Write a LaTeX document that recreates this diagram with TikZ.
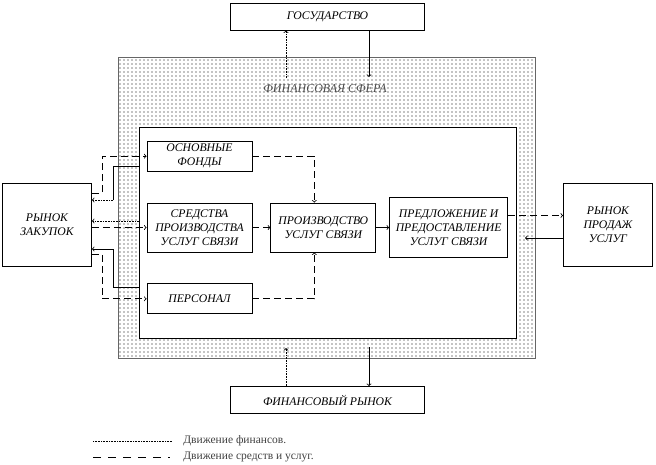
\documentclass[tikz,border=0pt]{standalone}
\usepackage{fontspec}
\setmainfont{Liberation Serif}
\usetikzlibrary{arrows,positioning,patterns}
\pgfdeclarepatternformonly{sferadots}{\pgfqpoint{-1pt}{-1pt}}{\pgfqpoint{1pt}{1pt}}{\pgfqpoint{4pt}{4pt}}{\pgfpathcircle{\pgfqpoint{0pt}{0pt}}{.6pt}\pgfusepath{fill}}
\tikzset{
    %Define standard arrow tip
    >=to,
    %Define style for boxes
    block/.style={
           rectangle,
           draw=black, line width=.8pt,
           fill=white,
           inner sep=1pt,
           font=\itshape\fontsize{11.7}{14}\selectfont,
           align=center,
           },
    smallblock/.style={
           block,
           minimum width=105pt,
           minimum height=30pt,
           },
    market/.style={
           block,
           minimum width=89pt,
           minimum height=83pt,
           },
    wideblock/.style={
           block,
           minimum width=194pt,
           minimum height=27pt,
           },
    legend/.style={
           font=\fontsize{11.5}{13}\selectfont,
           text=black!75,
           inner sep=0pt,
           },
    % Define connector styles
    fin/.style={
           dash pattern=on .8pt off .8pt,
           },
    res/.style={
           dash pattern=on 7pt off 4pt,
           },
    sphere/.style={
           pattern=sferadots,
           draw=black!60,
           line width=.6pt,
           }
}
\begin{document}
\begin{tikzpicture}[x=1pt,y=-1pt,line width=.8pt,node distance=18pt]
\useasboundingbox (0,0) rectangle (656,464);

 %financial sphere
\path[sphere] (118,57) rectangle (535,358);
\draw[fill=white] (139,127) rectangle (516,338);
\node[font=\itshape\fontsize{12}{14}\selectfont, text=black!70] (sfera) at (325,89) {ФИНАНСОВАЯ СФЕРА};

 %nodes
\node[block, minimum width=105pt, minimum height=49pt] (sredstva) at (199.5,227.5) {СРЕДСТВА\\ПРОИЗВОДСТВА\\УСЛУГ СВЯЗИ};
\node[smallblock, above=31pt of sredstva] (fondy) {ОСНОВНЫЕ\\ФОНДЫ};
\node[smallblock, below=31pt of sredstva] (personal) {ПЕРСОНАЛ};
\node[block, minimum width=105pt, minimum height=49pt, right=of sredstva] (proizv) {ПРОИЗВОДСТВО\\УСЛУГ СВЯЗИ};
\node[block, minimum width=118pt, minimum height=60pt, right=13pt of proizv] (predl) {ПРЕДЛОЖЕНИЕ И\\ПРЕДОСТАВЛЕНИЕ\\УСЛУГ СВЯЗИ};
\node[market] (zakup) at (47,224.5) {РЫНОК\\ЗАКУПОК};
\node[market] (prodazh) at (608,224.5) {РЫНОК\\ПРОДАЖ\\УСЛУГ};
\node[wideblock] (gos) at (327.5,16.5) {ГОСУДАРСТВО};
\node[wideblock] (finrynok) at (327.5,400) {ФИНАНСОВЫЙ РЫНОК};

 %inner connectors
\draw[res,->] (fondy.east) -| ([xshift=-9pt]proizv.north);
\draw[res,->] (personal.east) -| ([xshift=-9pt]proizv.south);
\draw[res,->] (sredstva.east) -- (proizv.west);
\draw[->] (proizv.east) -- (predl.west);

 %purchase market
\coordinate (z1) at (102,193);
\coordinate (z3) at (102,254);
\coordinate (f1) at (139,166);
\coordinate (f1b) at (113,200);
\coordinate (f2) at (139,221);
\coordinate (f3) at (139,287);
\coordinate (f3b) at (113,249);
\draw[res,->] (zakup.east |- z1) -- (z1) |- (fondy.west);
\draw (f1) -| (f1b);
\draw[fin,->] (f1b) -- (zakup.east |- f1b);
\draw[fin,->] (f2) -- (zakup.east |- f2);
\draw[res,->] (zakup.east |- sredstva.west) -- (sredstva.west);
\draw[->] (f3) -| (f3b) -- (zakup.east |- f3b);
\draw[res,->] (zakup.east |- z3) -- (z3) |- (personal.west);

 %sales market
\coordinate (s1) at (525,238);
\draw[res,->] ([yshift=12pt]predl.east) -- ([yshift=12pt]predl.east -| prodazh.west);
\draw[->] (prodazh.west |- s1) -- (s1);

 %state and financial market
\coordinate (g1) at (286,78);
\coordinate (g2) at (369,77);
\coordinate (r1) at (286,348);
\coordinate (r2) at (369,347);
\draw[fin,->] (g1) -- (g1 |- gos.south);
\draw[->] (gos.south -| g2) -- (g2);
\draw[fin,->] (r1 |- finrynok.north) -- (r1);
\draw[->] (r2) -- (r2 |- finrynok.north);

 %legend
\coordinate (l1) at (93,441);
\coordinate (l2) at (172,441);
\coordinate (l3) at (93,457);
\coordinate (l4) at (170,457);
\draw[fin] (l1) -- (l2);
\draw[dash pattern=on 8pt off 7pt] (l3) -- (l4);
\node[legend, anchor=west] (leg1) at (183,441) {Движение финансов.};
\node[legend, anchor=west] (leg2) at (183,457) {Движение средств и услуг.};

\end{tikzpicture}
\end{document}
